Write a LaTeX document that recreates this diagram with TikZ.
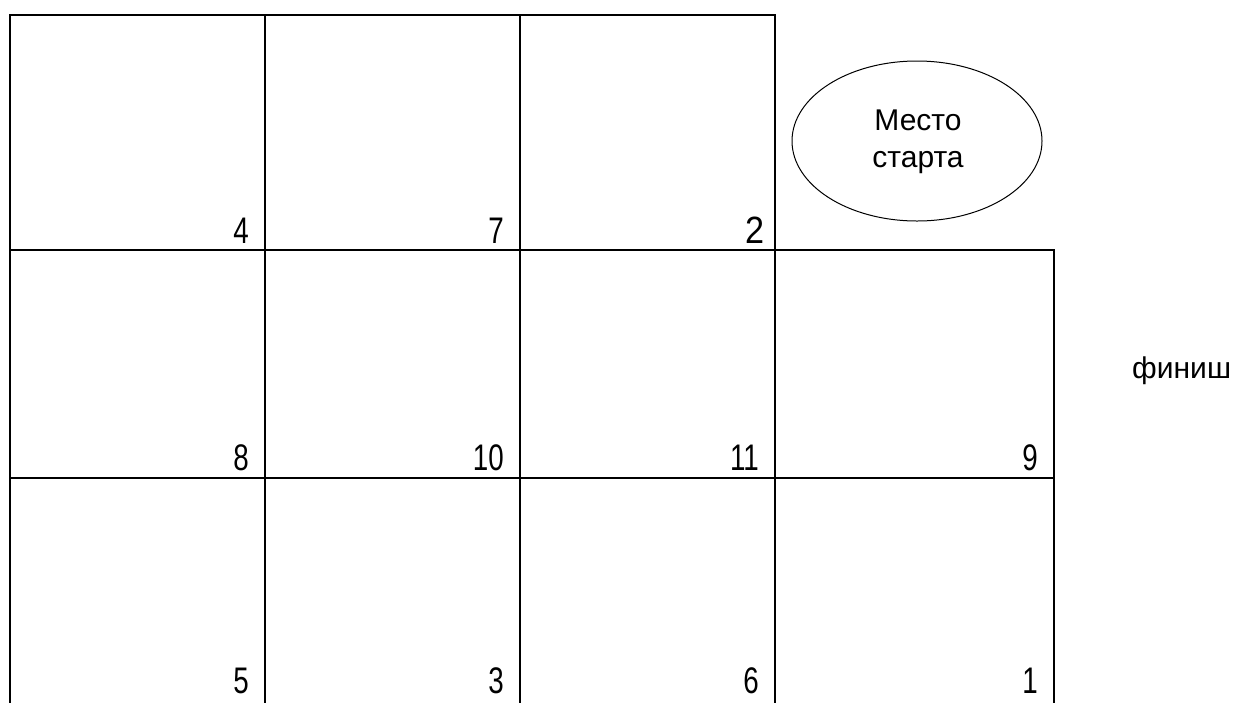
\documentclass[tikz,border=0pt]{standalone}
\usepackage{fontspec}
\setmainfont{Liberation Sans}
\newfontfamily\digitfont[FakeStretch=0.75]{Liberation Sans}
\newfontfamily\widedigitfont[FakeStretch=0.9]{Liberation Sans}
\begin{document}
\begin{tikzpicture}[x=1pt,y=-1pt,
  gridline/.style={line width=2pt,line cap=rect},
  cellnum/.style={anchor=base east,inner sep=0pt,font=\digitfont\fontsize{37}{40}\selectfont},
  label/.style={inner sep=0pt,font=\fontsize{30}{36}\selectfont,align=center}]
\useasboundingbox (0,0) rectangle (1233,702);
\begin{scope}
\clip (0,0) rectangle (1233,702);
% horizontal lines
\draw[gridline] (10,15) -- (775,15);
\draw[gridline] (10,250) -- (1054,250);
\draw[gridline] (10,478) -- (1054,478);
% vertical lines
\draw[gridline] (10,15) -- (10,710);
\draw[gridline] (265,15) -- (265,710);
\draw[gridline] (520,15) -- (520,710);
\draw[gridline] (775,15) -- (775,710);
\draw[gridline] (1054,250) -- (1054,710);
\end{scope}
% numbers
\node[cellnum] (n4) at (249,243) {4};
\node[cellnum] (n7) at (504,243) {7};
\node[cellnum,font=\widedigitfont\fontsize{38}{40}\selectfont] (n2) at (765,243) {2};
\node[cellnum] (n8) at (249,470) {8};
\node[cellnum] (n10) at (504,470) {10};
\node[cellnum] (n11) at (759,470) {11};
\node[cellnum] (n9) at (1038,470) {9};
\node[cellnum] (n5) at (249,693) {5};
\node[cellnum] (n3) at (504,693) {3};
\node[cellnum] (n6) at (759,693) {6};
\node[cellnum] (n1) at (1038,693) {1};
% start ellipse
\draw[line width=1pt] (917,141) ellipse [x radius=125, y radius=80];
\node[label,anchor=base] (start1) at (918,130) {Место};
\node[label,anchor=base] (start2) at (918,167) {старта};
\node[label,anchor=base west] (finish) at (1132,378) {финиш};
\end{tikzpicture}
\end{document}
